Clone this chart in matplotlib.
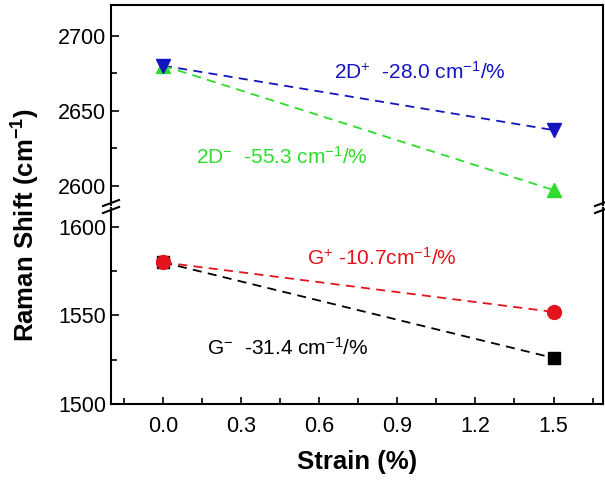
import numpy as np
import matplotlib.pyplot as plt
from matplotlib.lines import Line2D
from matplotlib.ticker import MultipleLocator

plt.rcParams['font.family'] = ['Liberation Sans', 'DejaVu Sans']
plt.rcParams['mathtext.fontset'] = 'custom'
plt.rcParams['mathtext.rm'] = 'Liberation Sans'
plt.rcParams['mathtext.it'] = 'Liberation Sans:italic'
plt.rcParams['mathtext.bf'] = 'Liberation Sans:bold'

# data
strain = [0.0, 1.5]
d_plus = [2680, 2637]
d_minus = [2680, 2597]
g_plus = [1580, 1552]
g_minus = [1580, 1526]
xticks = [0.0, 0.3, 0.6, 0.9, 1.2, 1.5]

blue = '#1414c0'
green = '#2ddc2d'
red = '#e3141e'
black = '#000000'

W, H = 605, 482
fig = plt.figure(figsize=(W / 100, H / 100), dpi=100)

def fx(px):
    return px / W

def fy(py):
    return 1 - py / H

left, right = fx(111), fx(603)
ax_top = fig.add_axes([left, fy(205), right - left, fy(5) - fy(205)])
ax_bot = fig.add_axes([left, fy(404), right - left, fy(208) - fy(404)])

dash = (0, (5, 3.5))
ax_top.plot(strain, d_plus, color=blue, ls=dash, lw=1.3)
ax_top.plot(strain, d_minus, color=green, ls=dash, lw=1.3)
ax_top.plot(strain, d_minus, ls='none', marker='^', ms=10, color=green)
ax_top.plot(strain, d_plus, ls='none', marker='v', ms=10, color=blue)

ax_bot.plot(strain, g_plus, color=red, ls=dash, lw=1.3)
ax_bot.plot(strain, g_minus, color=black, ls=dash, lw=1.3)
ax_bot.plot(strain, g_minus, ls='none', marker='s', ms=8, color=black)
ax_bot.plot(strain, g_plus, ls='none', marker='o', ms=10, color=red)

ax_top.set_xlim(-0.2, 1.69)
ax_bot.set_xlim(-0.2, 1.69)
ax_top.set_ylim(2587, 2720.5)
ax_bot.set_ylim(1500, 1610.7)

for ax in (ax_top, ax_bot):
    ax.yaxis.set_major_locator(MultipleLocator(50))
    ax.yaxis.set_minor_locator(MultipleLocator(25))
    ax.tick_params(axis='y', which='both', direction='in', right=False,
                   labelsize=15.5)
    ax.tick_params(axis='y', which='major', length=6, width=1.2)
    ax.tick_params(axis='y', which='minor', length=4, width=1.2)
    for s in ax.spines.values():
        s.set_linewidth(1.5)

ax_top.spines['bottom'].set_visible(False)
ax_top.tick_params(axis='x', which='both', bottom=False, labelbottom=False)
ax_bot.spines['top'].set_visible(False)
ax_bot.set_xticks(xticks)
ax_bot.xaxis.set_minor_locator(MultipleLocator(0.15))
ax_bot.tick_params(axis='x', which='both', direction='in', top=False,
                   labelsize=15.5, pad=9)
ax_bot.tick_params(axis='x', which='major', length=5, width=1.2)
ax_bot.tick_params(axis='x', which='minor', length=4, width=1.2)
ax_bot.set_xticklabels(['%.1f' % t for t in xticks])

ax_bot.set_xlabel('Strain (%)', fontsize=18.5, fontweight='bold', labelpad=9)
fig.text(fx(26), fy(225), 'Raman Shift (cm$^{\\mathbf{-1}}$)', rotation=90,
         fontsize=18.5, fontweight='bold', ha='center', va='center')

ax_top.text(0.656, 2676, '2D$^{+}$  -28.0 cm$^{-1}$/%', color=blue,
            fontsize=15, va='center')
ax_top.text(0.127, 2619, '2D$^{-}$  -55.3 cm$^{-1}$/%', color=green,
            fontsize=15, va='center')
ax_bot.text(0.552, 1582.5, 'G$^{+}$ -10.7cm$^{-1}$/%', color=red,
            fontsize=15, va='center')
ax_bot.text(0.169, 1531.6, 'G$^{-}$  -31.4 cm$^{-1}$/%', color=black,
            fontsize=15, va='center')

# break marks on the y axis
for xs in (111, 603):
    for yb in (203, 210):
        fig.add_artist(Line2D([fx(xs - 8), fx(xs + 8)], [fy(yb + 3), fy(yb - 3)],
                              color='black', lw=1.5, clip_on=False))

fig.savefig('out.png', dpi=100)
